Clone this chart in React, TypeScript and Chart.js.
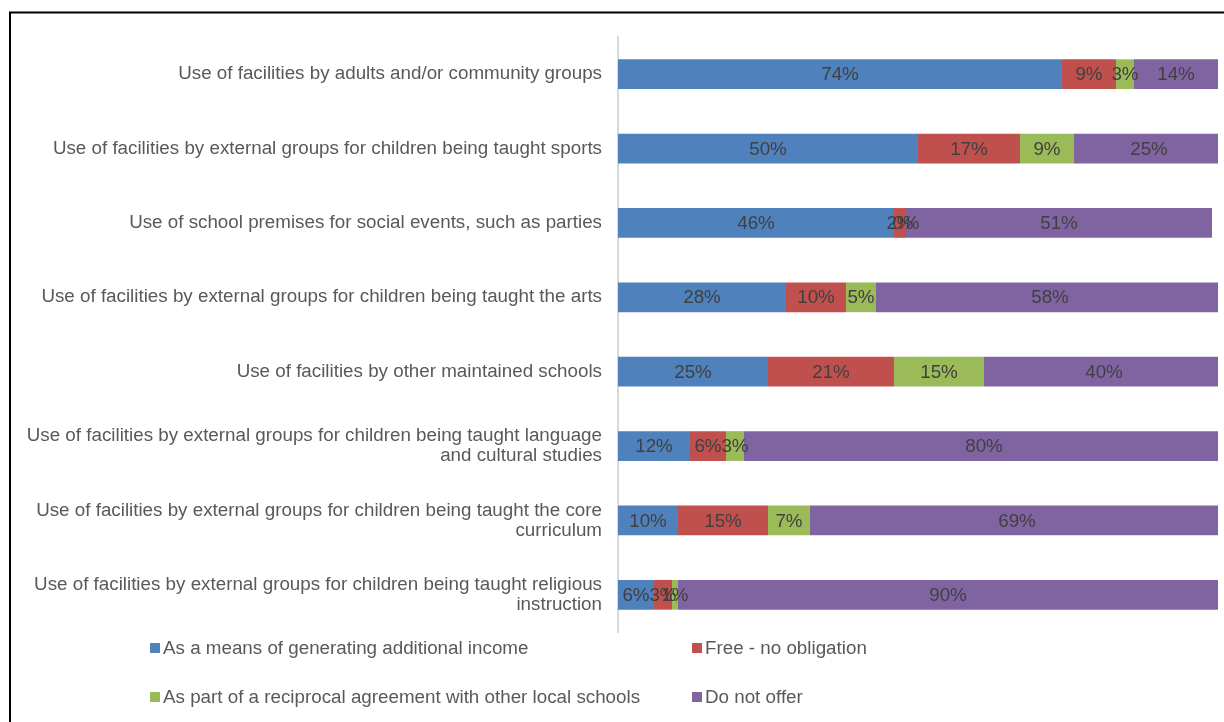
import React, { useEffect, useRef } from "react";
import { Chart, registerables } from "chart.js";

Chart.register(...registerables);

const categories: (string | string[])[] = [
  "Use of facilities by adults and/or community groups",
  "Use of facilities by external groups for children being taught sports",
  "Use of school premises for social events, such as parties",
  "Use of facilities by external groups for children being taught the arts",
  "Use of facilities by other maintained schools",
  ["Use of facilities by external groups for children being taught language", "and cultural studies"],
  ["Use of facilities by external groups for children being taught the core", "curriculum"],
  ["Use of facilities by external groups for children being taught religious", "instruction"],
];

const seriesNames = [
  "As a means of generating additional income",
  "Free - no obligation",
  "As part of a reciprocal agreement with other local schools",
  "Do not offer",
];

const incomeValues = [74, 50, 46, 28, 25, 12, 10, 6];
const freeValues = [9, 17, 2, 10, 21, 6, 15, 3];
const reciprocalValues = [3, 9, 0, 5, 15, 3, 7, 1];
const notOfferValues = [14, 25, 51, 58, 40, 80, 69, 90];

const seriesColors = ["#4f81bd", "#c0504d", "#9bbb59", "#8064a2"];

const FONT = "'Liberation Sans', Arial, sans-serif";
const FS = 18.8;

export default function App() {
  const ref = useRef<HTMLCanvasElement | null>(null);

  useEffect(() => {
    if (!ref.current) return;

    const frame = {
      id: "frame",
      beforeDraw(chart: any) {
        const ctx = chart.ctx;
        ctx.save();
        ctx.strokeStyle = "#000000";
        ctx.lineWidth = 2;
        ctx.beginPath();
        ctx.moveTo(1240, 12.5);
        ctx.lineTo(10, 12.5);
        ctx.lineTo(10, 740);
        ctx.stroke();
        ctx.restore();
      },
    };

    const labels = {
      id: "barLabels",
      afterDatasetsDraw(chart: any) {
        const ctx = chart.ctx;
        ctx.save();
        ctx.font = `${FS}px ${FONT}`;
        ctx.fillStyle = "#404040";
        ctx.textAlign = "center";
        ctx.textBaseline = "middle";
        chart.data.datasets.forEach((ds: any, di: number) => {
          const meta = chart.getDatasetMeta(di);
          meta.data.forEach((bar: any, i: number) => {
            const v = ds.data[i];
            const x = (bar.base + bar.x) / 2;
            ctx.fillText(`${Math.round(v)}%`, x, bar.y + 1);
          });
        });
        ctx.restore();
      },
    };

    const legend = {
      id: "customLegend",
      afterDraw(chart: any) {
        const ctx = chart.ctx;
        const pos = [
          [150, 648],
          [692, 648],
          [150, 697],
          [692, 697],
        ];
        ctx.save();
        ctx.font = `${FS}px ${FONT}`;
        ctx.textAlign = "left";
        ctx.textBaseline = "middle";
        seriesNames.forEach((name, i) => {
          const [x, y] = pos[i];
          ctx.fillStyle = seriesColors[i];
          ctx.fillRect(x, y - 5, 10, 10);
          ctx.fillStyle = "#595959";
          ctx.fillText(name, x + 13, y + 1);
        });
        ctx.restore();
      },
    };

    const chart = new Chart(ref.current, {
      type: "bar",
      data: {
        labels: categories,
        datasets: [incomeValues, freeValues, reciprocalValues, notOfferValues].map((d, i) => ({
          label: seriesNames[i],
          data: d,
          backgroundColor: seriesColors[i],
          borderWidth: 0,
          barPercentage: 0.4,
          categoryPercentage: 1,
        })),
      },
      options: {
        indexAxis: "y",
        responsive: false,
        animation: false,
        layout: { padding: { top: 37, right: 6, bottom: 90, left: 0 } },
        plugins: {
          legend: { display: false },
          tooltip: { enabled: false },
        },
        scales: {
          x: {
            stacked: true,
            min: 0,
            max: 100,
            display: false,
          },
          y: {
            stacked: true,
            afterFit(scale: any) {
              scale.width = 618;
            },
            grid: { display: false, drawTicks: false },
            border: { display: true, color: "#d9d9d9", width: 2 },
            ticks: {
              padding: 16,
              color: "#595959",
              font: { family: FONT, size: FS, lineHeight: 1.07 },
            },
          },
        },
      },
      plugins: [frame, labels, legend],
    });

    return () => chart.destroy();
  }, []);

  return (
    <canvas
      ref={ref}
      width={1224}
      height={722}
      style={{ position: "absolute", left: 0, top: 0, width: 1224, height: 722, background: "#ffffff" }}
    />
  );
}
